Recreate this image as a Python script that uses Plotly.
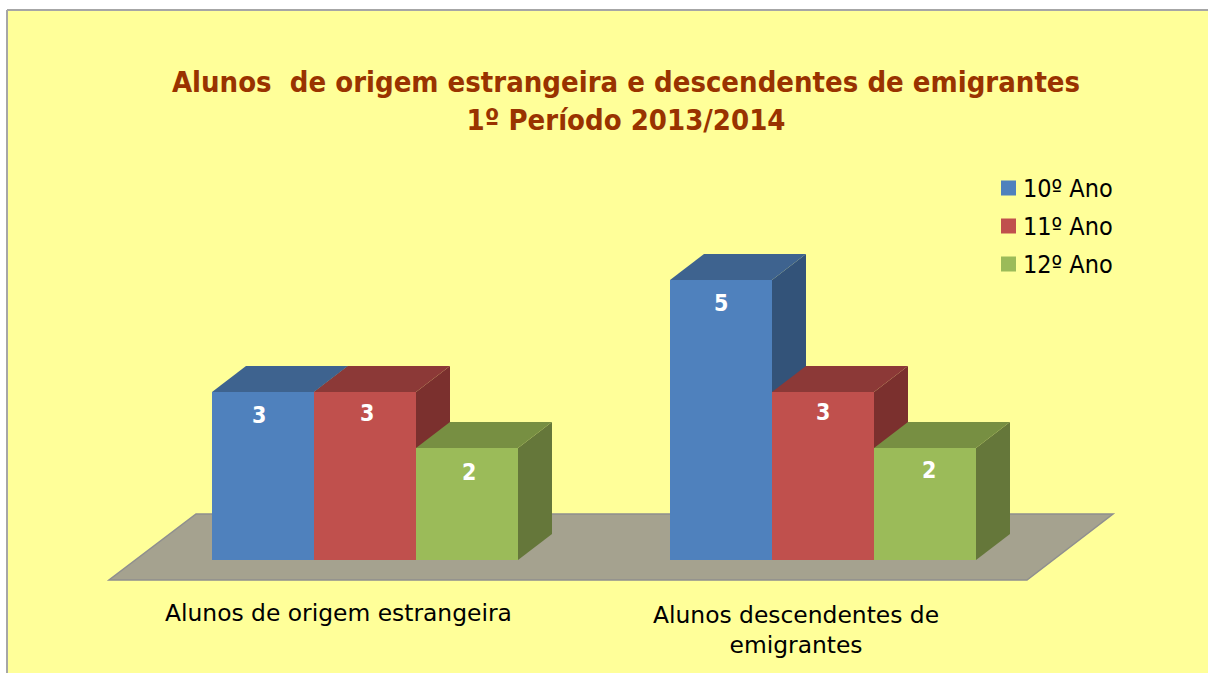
import plotly.graph_objects as go

# ---- data ----
categories = ["Alunos de origem estrangeira", "Alunos descendentes de<br>emigrantes"]
series_names = ["10º Ano", "11º Ano", "12º Ano"]
values_10 = [3, 5]
values_11 = [3, 3]
values_12 = [2, 2]
title_lines = ["Alunos \u00a0de origem estrangeira e descendentes de emigrantes", "1º Período 2013/2014"]

front_colors = ["#4f81bd", "#c0504d", "#9bbb59"]
top_colors = ["#3e638f", "#8c3937", "#778f42"]
side_colors = ["#335379", "#7b302e", "#65773a"]
label_shifts = [[(0, 0), (2, 3), (2, 0)], [(0, 1), (0, 4), (4, 2)]]
label_shifts[0][0] = (-4, 1)

W, H = 1208, 673
ML, MT = 8, 11
PX_PER_CAT, PX_PER_UNIT = 458.0, 56.0
X0_PX, Y0_PX = 365.0, 560.0
x_range = [(ML - X0_PX) / PX_PER_CAT, (W - X0_PX) / PX_PER_CAT]
y_range = [(Y0_PX - H) / PX_PER_UNIT, (Y0_PX - MT) / PX_PER_UNIT]
DX, DY = 34 / PX_PER_CAT, 26 / PX_PER_UNIT
BAR_W = 102 / PX_PER_CAT
COND = "DejaVu Sans Condensed, DejaVu Sans"
BODY = "DejaVu Sans"

series = [values_10, values_11, values_12]
cat_x = list(range(len(categories)))

fig = go.Figure()
for name, vals, col in zip(series_names, series, front_colors):
    fig.add_bar(x=cat_x, y=vals, name=name, showlegend=False, marker=dict(color=col, line=dict(width=0)))

def poly(xs, ys, fill):
    path = "M" + "L".join(f"{a},{b}" for a, b in zip(xs, ys)) + "Z"
    return dict(type="path", path=path, xref="x", yref="y", fillcolor=fill, layer="below", line=dict(width=0))

def px(p):
    return (p - ML) / (W - ML)

def py(p):
    return 1 - (p - MT) / (H - MT)

shapes = []
# floor
fx = [(109 - X0_PX) / PX_PER_CAT, (1027 - X0_PX) / PX_PER_CAT, (1113 - X0_PX) / PX_PER_CAT, (196 - X0_PX) / PX_PER_CAT]
fy = [-20 / PX_PER_UNIT, -20 / PX_PER_UNIT, 46 / PX_PER_UNIT, 46 / PX_PER_UNIT]
floor = poly(fx, fy, "#a5a28f")
floor["line"] = dict(color="#8f8f8f", width=1.5)
shapes.append(floor)

annotations = []
for c in cat_x:
    for s, vals in enumerate(series):
        left = c + (s - 1.5) * BAR_W
        right = left + BAR_W
        v = vals[c]
        shapes.append(poly([right, right + DX, right + DX, right], [0, DY, v + DY, v], side_colors[s]))
        shapes.append(poly([left, right, right + DX, left + DX], [v, v, v + DY, v + DY], top_colors[s]))
        sx, sy = label_shifts[c][s]
        annotations.append(dict(x=c + (s - 1) * BAR_W, y=v, text=f"<b>{v}</b>", showarrow=False, xref="x", yref="y",
                                yanchor="top", xshift=sx, yshift=-9 + sy,
                                font=dict(family=COND, size=23, color="white")))
    two = "<br>" in categories[c]
    annotations.append(dict(x=c, y=-55 / PX_PER_UNIT, text=categories[c], showarrow=False, xref="x", yref="y",
                            yanchor="top" if two else "middle", xshift=-27, yshift=16.5 if two else 2,
                            font=dict(family=BODY, size=23.4, color="black")))

# legend
legend_y = [188, 226, 264]
for name, col, ly in zip(series_names, front_colors, legend_y):
    shapes.append(dict(type="rect", xref="paper", yref="paper", x0=px(1001), x1=px(1016), y0=py(ly - 7.5), y1=py(ly + 7.5),
                       fillcolor=col, line=dict(width=0)))
    annotations.append(dict(x=px(1023), y=py(ly), xref="paper", yref="paper", text=name, showarrow=False,
                            xanchor="left", yanchor="middle", xshift=-2,
                            font=dict(family=COND, size=25, color="black")))

# chart-area border (left and top)
shapes.append(dict(type="line", xref="paper", yref="paper", x0=px(7), x1=px(7), y0=0, y1=py(10), line=dict(color="#a6a6a6", width=2)))
shapes.append(dict(type="line", xref="paper", yref="paper", x0=px(7), x1=1, y0=py(10), y1=py(10), line=dict(color="#a6a6a6", width=2)))

fig.update_layout(
    width=W, height=H, margin=dict(l=ML, r=0, t=MT, b=0, pad=0),
    paper_bgcolor="white", plot_bgcolor="#ffff99", showlegend=False,
    barmode="group", bargap=1 - 3 * BAR_W, bargroupgap=0,
    xaxis=dict(range=x_range, visible=False, fixedrange=True),
    yaxis=dict(range=y_range, visible=False, fixedrange=True),
    title=dict(text="<br>".join(f"<b>{t}</b>" for t in title_lines), x=626 / W, xanchor="center",
               y=1 - 92 / H, yanchor="top", font=dict(family=COND, size=29, color="#993300")),
    shapes=shapes, annotations=annotations,
)

fig.write_html("out.html", config={"displayModeBar": False},
               post_script="document.body.style.margin='0';document.body.style.overflow='hidden';")
